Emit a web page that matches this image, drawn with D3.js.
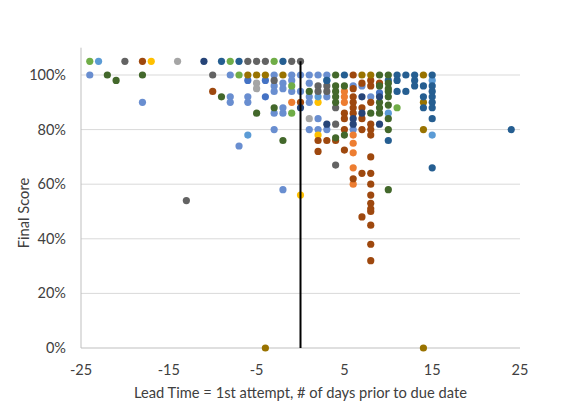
<!DOCTYPE html>
<html>
<head>
<meta charset="utf-8">
<script src="https://cdn.jsdelivr.net/npm/d3@7/dist/d3.min.js"></script>
<style>
  body { margin: 0; background: #fff; }
  text { font-family: Lato, "Open Sans", sans-serif; fill: #404040; }
</style>
</head>
<body>
<svg id="chart" width="576" height="419"></svg>
<script>
// [lead time in days, final score %]
const green = [[-24,105],[-8,105],[-7,100],[-3,105],[-1,96],[-1,86],[11,88]];
const sky = [[-23,105],[-6,78],[2,92],[3,98],[10,86],[15,98],[15,78]];
const lightBlue = [[-24,100],[-18,90],[-8,100],[-8,92],[-8,90],[-7,74],[-6,92],[-6,90],[-3,100],[-3,96],[-3,94],[-3,86],[-3,80],
  [-2,97],[-2,95],[-2,88],[-2,86],[-2,58],[-1,100],[-1,98],[-1,94],[0,100],[0,94],[1,100],[1,97],[1,92],[1,90],[1,80],
  [2,100],[2,84],[2,80],[3,100],[3,92],[3,80],[6,96],[6,80],[7,96],[8,92]];
const blue = [[-6,98],[-4,98],[-4,92],[9,93.5]];
const darkGreen = [[-22,100],[-21,98],[-18,100],[-9,92],[-5,86],[-3,88],[-2,76],[1,94],[4,100],[4,96],[4,94],[4,92],[4,90],[4,77],
  [5,96],[5,78],[8,86],[9,100],[9,96],[9,90],[9,88],[9,86],[10,100],[10,97],[10,95],[10,94],[10,92],[10,89],[10,84],[10,80],[10,58]];
const darkGray = [[-20,105],[-13,54],[-10,100],[-6,105],[-5,105],[-4,105],[-3,98],[-1,105],[0,105],[2,96],[2,94],[3,96],[3,94],[4,88],[4,82],[4,67]];
const gray = [[-14,105],[-5,97],[-5,95],[1,84]];
const brown = [[-18,105],[-10,94],[0,90],[2,76],[2,72],[3,76],[4,76],[5,86],[5,84],[5,80],[5,72.5],[6,100],[6,95],[6,92],[6,90],[6,88],[6,86],[6,62],
  [7,97],[7,88],[7,84],[7,80],[7,64],[7,48],[8,98],[8,96],[8,90],[8,82],[8,80],[8,78],[8,70],[8,64],[8,60],[8,56],[8,53],[8,51],[8,50],[8,45],[8,38],[8,32],[9,97]];
const orange = [[-1,90],[5,94],[5,92],[5,90],[6,78],[6,75],[6,71.5],[6,66],[6,60]];
const gold = [[-17,105],[0,56],[2,90],[2,78]];
const olive = [[-6,100],[-5,100],[-4,100],[-2,100],[7,100],[8,100],[14,100],[14,90],[14,80],[-4,0],[14,0]];
const navy = [[-11,105],[0,88],[3,82],[6,84],[6,82],[7,92],[7,86],[9,92],[9,82]];
const steel = [[-9,105],[-7,105],[-2,105],[3,98],[5,100],[10,98],[10,76],[11,100],[11,98],[11,94],[12,100],[12,94],[13,100],[13,98],[13,96],
  [14,96],[14,92],[14,88],[15,100],[15,96],[15,94],[15,92],[15,90],[15,88],[15,84],[15,66],[24,80]];

const series = [
  { data: lightBlue, color: '#698ED0' },
  { data: orange, color: '#ED7D31' },
  { data: gray, color: '#A5A5A5' },
  { data: gold, color: '#FFC000' },
  { data: sky, color: '#5B9BD5' },
  { data: green, color: '#70AD47' },
  { data: blue, color: '#4472C4' },
  { data: brown, color: '#9E480E' },
  { data: darkGray, color: '#636363' },
  { data: olive, color: '#997300' },
  { data: steel, color: '#255E91' },
  { data: darkGreen, color: '#43682B' },
  { data: navy, color: '#264478' }
];
const dueLine = [[0,0],[0,105]];
const xTicks = [-25,-15,-5,5,15,25];
const yTicks = [0,20,40,60,80,100];

const svg = d3.select('#chart');
const x = d3.scaleLinear().domain([-25, 25]).range([81, 520]);
const y = d3.scaleLinear().domain([0, 110]).range([348, 47.7]);

// gridlines
svg.append('g').selectAll('line').data(yTicks.filter(d => d > 0)).enter().append('line')
  .attr('x1', x(-25)).attr('x2', x(25))
  .attr('y1', d => y(d)).attr('y2', d => y(d))
  .attr('stroke', '#d9d9d9').attr('stroke-width', 1);

// axis lines
svg.append('line').attr('x1', x(-25)).attr('x2', x(25)).attr('y1', y(0)).attr('y2', y(0))
  .attr('stroke', '#bfbfbf').attr('stroke-width', 1);
svg.append('line').attr('x1', x(-25)).attr('x2', x(-25)).attr('y1', y(0)).attr('y2', y(110))
  .attr('stroke', '#bfbfbf').attr('stroke-width', 1);

// tick labels
svg.append('g').selectAll('text').data(yTicks).enter().append('text')
  .attr('x', 66).attr('y', d => y(d)).attr('dy', '0.35em')
  .attr('text-anchor', 'end').style('font-size', '14.5px')
  .text(d => d + '%');
svg.append('g').selectAll('text').data(xTicks).enter().append('text')
  .attr('x', d => x(d)).attr('y', 374.5)
  .attr('text-anchor', 'middle').style('font-size', '14.5px')
  .text(d => d);

// titles
svg.append('text').attr('x', x(0)).attr('y', 398).attr('text-anchor', 'middle')
  .style('font-size', '14.7px').text('Lead Time = 1st attempt, # of days prior to due date');
svg.append('text').attr('transform', 'translate(29,213) rotate(-90)').attr('text-anchor', 'middle')
  .style('font-size', '14.7px').text('Final Score');

// points
series.forEach(s => {
  svg.append('g').selectAll('circle').data(s.data).enter().append('circle')
    .attr('cx', d => x(d[0])).attr('cy', d => y(d[1]))
    .attr('r', 3.6).attr('fill', s.color);
});

// due date line
svg.append('path').datum(dueLine)
  .attr('d', d3.line().x(d => x(d[0])).y(d => y(d[1])))
  .attr('stroke', '#000').attr('stroke-width', 2).attr('fill', 'none');
</script>
</body>
</html>
